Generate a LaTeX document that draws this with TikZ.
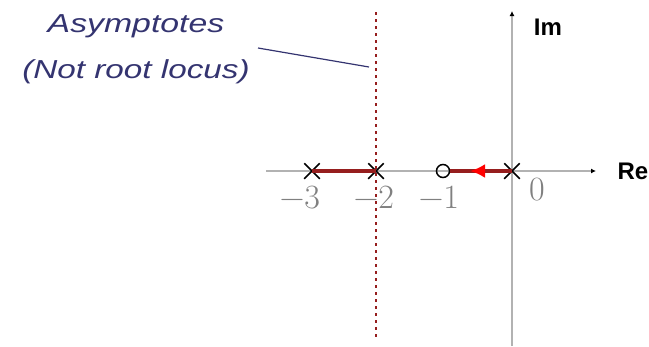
\documentclass[tikz,border=0pt]{standalone}
\usepackage{amsmath,amssymb}
\usepackage{xcolor}
\usepackage{fontspec}
\usepackage{tikz}
\usetikzlibrary{arrows.meta,positioning,calc,shapes.misc,decorations.markings}
\newfontfamily\arialfont{Liberation Sans}
\definecolor{asymcol}{RGB}{52,52,112}
\definecolor{axiscol}{RGB}{178,178,178}
\definecolor{locuscol}{RGB}{150,30,30}
\tikzset{
  pole/.style={cross out,draw=black,line width=1.5pt,minimum size=14pt,inner sep=0pt},
  zero/.style={circle,draw=black,line width=1.5pt,minimum size=13pt,inner sep=0pt},
  locus/.style={draw=locuscol,line width=3.4pt},
  ticklbl/.style={text=gray,font=\fontsize{34}{36}\selectfont,inner sep=0pt,anchor=base},
  axislbl/.style={font=\arialfont\bfseries\fontsize{24}{26}\selectfont,inner sep=0pt,anchor=base},
  notelbl/.style={text=asymcol,font=\arialfont\itshape\fontsize{26}{28}\selectfont,inner sep=0pt,anchor=base}
}

\begin{document}
\begin{tikzpicture}[x=1pt,y=-1pt]
\useasboundingbox (0,0) rectangle (649,346);
% axes
\draw[axiscol,line width=1.6pt,-{Latex[black,length=5pt,width=5pt]}] (266,171) -- (596,171);
\draw[axiscol,line width=1.6pt,-{Latex[black,length=5pt,width=5pt]}] (512,346) -- (512,11);
\node[axislbl] (re) at (633,179) {Re};
\node[axislbl] (im) at (548,35) {Im};
% asymptote
\draw[locuscol,line width=1.3pt,dash pattern=on 3pt off 4pt] (376,12) -- (376,340);
% poles and zero
\node[pole] (p3) at (312,171) {};
\node[pole] (p2) at (376,171) {};
\node[zero] (z1) at (443,171) {};
\node[pole] (p0) at (512,171) {};
% root locus on the real axis
\draw[locus] (p3.center) -- (p2.center);
\draw[locus,postaction={decorate},decoration={markings,
  mark=at position 0.68 with {\arrow{Latex[red,length=15pt,width=14pt]}}}]
  (p0.center) -- (z1.east);
% tick labels
\node[ticklbl] (l3) at (300,208) {−3};
\node[ticklbl] (l2) at (374,208) {−2};
\node[ticklbl] (l1) at (439,208) {−1};
\node[ticklbl] (l0) at (537,200) {0};
% note
\node[notelbl] (asym) at (136,32) {\scalebox{1.3}[1]{Asymptotes}};
\node[notelbl] (nrl) at (136,78) {\scalebox{1.28}[1]{(Not root locus)}};
\coordinate (tail) at (258,48);
\coordinate (tip) at (369,67);
\draw[asymcol,line width=1.2pt] (tail) -- (tip);
\end{tikzpicture}
\end{document}
